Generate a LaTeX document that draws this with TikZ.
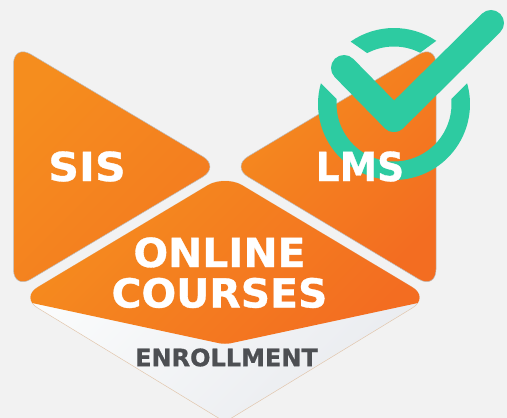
\documentclass[tikz,border=0pt]{standalone}
\usepackage{fontspec}
\setmainfont[BoldFeatures={FakeBold=0.8}]{DejaVu Sans}
\definecolor{pagegrey}{HTML}{F2F2F2}
\definecolor{orangea}{HTML}{F58D1E}
\definecolor{orangeb}{HTML}{F36D21}
\definecolor{orangec}{HTML}{F47A20}
\definecolor{checkgreen}{HTML}{2DCBA1}
\definecolor{whitea}{HTML}{FDFEFE}
\definecolor{whiteb}{HTML}{E9EBEF}
\definecolor{edgetan}{HTML}{E2C6AC}
\definecolor{enrolltext}{HTML}{4D4F53}
\tikzset{
  orangepart/.style={top color=orangea, bottom color=orangeb, shading angle=45},
  whitepart/.style={top color=whitea, bottom color=whiteb, shading angle=45},
  bigword/.style={text=white, font=\bfseries\fontsize{40}{40.5}\selectfont, align=center, inner sep=0pt},
}
\begin{document}
\begin{tikzpicture}[x=1pt, y=1pt]
	\useasboundingbox (0,0) rectangle (507,418);
	\clip (0,0) rectangle (507,418);
	\fill [pagegrey] (0,0) rectangle (507,418);
	\shadedraw [orangepart, bottom color=orangec, shading angle=45, draw=black!25, line width=.5pt, rounded corners=20pt] (13.5,374) -- (220,251.3) -- (13.5,128.5) -- cycle;
	\shadedraw [orangepart, draw=black!25, line width=.5pt, rounded corners=20pt] (436,374) -- (231,251.3) -- (436,128.5) -- cycle;
	\shadedraw [whitepart, draw=edgetan, line width=.5pt] (225,-4) [rounded corners=20pt] -- (20.5,120.5) -- (225,243) -- (429.5,120.5) [sharp corners] -- cycle;
	\begin{scope}
		\clip (225,-4) [rounded corners=20pt] -- (20.5,120.5) -- (225,243) -- (429.5,120.5) [sharp corners] -- cycle;
		\shade [orangepart, rounded corners=6pt] (20,117.6) -- (225,73.5) -- (430,117.6) -- (430,245) -- (20,245) -- cycle;
	\end{scope}
	\coordinate (ringc) at (394,314);
	\fill [checkgreen] ([shift={(124.8:76)}]ringc) arc [start angle=124.8, end angle=56.2, radius=76] -- ([shift={(63:57.5)}]ringc) arc [start angle=63, end angle=117.8, radius=57.5] -- cycle;
	\fill [checkgreen] ([shift={(15.8:76)}]ringc) arc [start angle=15.8, end angle=-195.8, radius=76] -- ([shift={(175:57.5)}]ringc) arc [start angle=-185, end angle=5, radius=57.5] -- cycle;
	\coordinate (checka) at (344,350);
	\coordinate (checkb) at (394,299);
	\coordinate (checkc) at (491,395);
	\draw [checkgreen, line width=26pt, line cap=round, line join=round] (checka) -- (checkb) -- (checkc);
	\fill [checkgreen, rounded corners=13pt] (394,280.6) -- (412.4,299) -- (394,317.4) -- (375.6,299) -- cycle;
	\node (sis) [bigword, xscale=1.07] at (87,251.5) {SIS};
	\node (lms) [bigword, xscale=.94] at (360,251.5) {LMS};
	\node (courses) [bigword, xscale=1.02] at (219.5,145.3) {ONLINE\\COURSES};
	\node (enrollment) [text=enrolltext, font=\bfseries\fontsize{24}{24}\selectfont, inner sep=0pt] at (226.5,60.5) {ENROLLMENT};
\end{tikzpicture}
\end{document}
